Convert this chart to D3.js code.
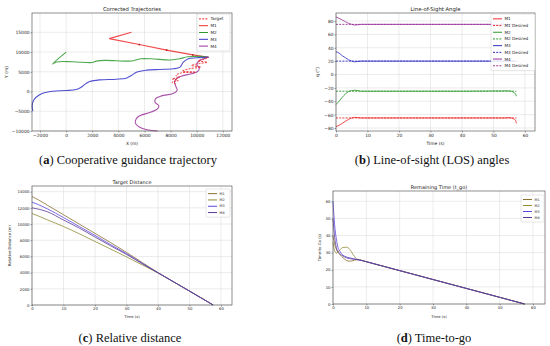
<!DOCTYPE html>
<html>
<head>
<meta charset="utf-8">
<script src="https://cdn.jsdelivr.net/npm/d3@7"></script>
<style>
  body { margin: 0; background: #fff; }
  text { font-family: "DejaVu Sans", sans-serif; fill: #222; }
  .cap { font-family: "Liberation Serif", serif; fill: #111; }
</style>
</head>
<body>
<svg id="chart" width="550" height="346"></svg>
<script>
// ---- (a) trajectories, [X, Y] in metres
const target = [[8400,1900],[8100,2400],[8600,2800],[8100,3200],[8700,3600],[8400,4100],[8800,4700],[9900,4900],[8900,5200],[9500,5800],[10300,6200],[9600,6600],[10200,7100],[10800,7400],[10100,7800],[10600,8200],[10900,8700]];
const trajM1 = [[5000,15000],[3300,13400],[5600,11900],[7700,10500],[9700,9300],[10900,8700]];
const marksM1 = [[5600,11900],[7700,10500],[9700,9300]];
const trajM2 = [[0,10000],[-1050,7000],[-750,7500],[500,7550],[2000,7350],[2300,7700],[3000,7900],[4500,7700],[5000,7750],[5700,8300],[6500,8300],[8000,8000],[8700,8300],[9300,8800],[10200,8900],[10900,8700]];
const trajM3 = [[-2550,-5000],[-2600,-3500],[-2500,-2300],[-2300,-1440],[-1800,-420],[-1030,90],[0,250],[770,510],[1150,1100],[1490,1950],[1800,2540],[2560,2960],[3850,3130],[4600,3390],[5000,4060],[5380,4910],[6150,5420],[7180,5590],[8200,5760],[8720,6180],[8970,7450],[9360,8300],[10000,8550],[10900,8720]];
const trajM4 = [[7000,-10000],[6200,-9700],[5600,-9000],[5300,-8000],[5350,-7000],[5600,-6200],[6500,-5200],[7000,-4400],[7100,-3600],[6800,-2700],[6850,-1800],[7300,-1100],[8200,-500],[8500,300],[8400,1300],[8300,2400],[8450,3300],[8800,3900],[9600,4500],[10100,5200],[10200,6000],[10000,6800],[10100,7500],[10300,8000],[10900,8700]];

// ---- (b) LOS angles (deg)
const losT = [0,1,2,3,4,5,6,7,8,20,40,54,55,56,56.5,57,57.3];
const losM1 = [-78,-76,-73,-70,-67,-65,-64,-64.5,-65,-65,-65,-65,-64.5,-65.5,-66.5,-68.5,-73];
const losM2 = [-45,-40,-34,-29,-25.5,-24,-23.5,-24,-25,-25,-25,-24.5,-24.5,-25.5,-27,-29,-32.5];
const losM3 = [34,32,28,25,22,20,19,19.5,20,20,20,20,20,20,20,20,20];
const losM4 = [86,84,81.5,79,76.5,75,74,74.5,75,75,75,75,75,75,75,75,75];
const losDesired = [-65,-25,20,75];

// ---- (c) relative distance (m)
const distT = [0,2,5,10,15,20,25,30,35,40,45,50,55,57.5];
const distM1 = [13400,13000,12300,11150,10000,8850,7700,6500,5250,4000,2850,1720,580,0];
const distM2 = [11300,11000,10500,9700,8800,7850,6900,5950,4950,3950,2850,1720,580,0];
const distM3 = [12700,12400,11850,10800,9700,8600,7450,6350,5150,3990,2850,1720,580,0];
const distM4 = [12000,11850,11500,10500,9500,8400,7300,6250,5100,3980,2850,1720,580,0];

// ---- (d) time-to-go (s)
const tgoT = [0,0.5,1,1.5,2,3,4,5,6,7,8,10,20,30,40,50,57.5];
const tgoM1 = [40,35,32,30,29,27,25.5,25,25.3,25.8,25.7,24.7,19.5,14.3,9.1,3.9,0];
const tgoM2 = [36,31,29.8,30.5,31.5,33,33.2,32,29,26.5,25.8,24.7,19.5,14.3,9.1,3.9,0];
const tgoM3 = [60,46,38,33,31,28.5,27.5,27,26.5,26.1,25.7,24.7,19.5,14.3,9.1,3.9,0];
const tgoM4 = [50,39,33,30.5,29.5,28,27,26.5,26.2,26,25.7,24.7,19.5,14.3,9.1,3.9,0];

const names = ['M1','M2','M3','M4'];
const colA = ['#ee2a2a','#2f9a2f','#3232c8','#9a3399'];
const colC = ['#8b6f2f','#8f8c35','#5a48e0','#5c3a94'];

const svg = d3.select('#chart');

function panel(c) {
  const g = svg.append('g');
  const x = d3.scaleLinear().domain(c.xd).range([c.l, c.r]);
  const y = d3.scaleLinear().domain(c.yd).range([c.b, c.t]);

  // grid
  g.selectAll('.gx').data(c.xt).enter().append('line')
    .attr('x1', d => x(d)).attr('x2', d => x(d)).attr('y1', c.t).attr('y2', c.b)
    .attr('stroke', '#d8d8d8').attr('stroke-width', 0.5);
  g.selectAll('.gy').data(c.yt).enter().append('line')
    .attr('y1', d => y(d)).attr('y2', d => y(d)).attr('x1', c.l).attr('x2', c.r)
    .attr('stroke', '#d8d8d8').attr('stroke-width', 0.5);

  const ax = g.append('g').attr('transform', `translate(0,${c.b})`)
    .call(d3.axisBottom(x).tickValues(c.xt).tickSize(1.5).tickPadding(1).tickFormat(d3.format('d')));
  const ay = g.append('g').attr('transform', `translate(${c.l},0)`)
    .call(d3.axisLeft(y).tickValues(c.yt).tickSize(1.5).tickPadding(1).tickFormat(d => d < 0 ? '\u2212' + Math.abs(d) : d));
  [ax, ay].forEach(a => {
    a.select('.domain').remove();
    a.selectAll('line').attr('stroke', '#444').attr('stroke-width', 0.5);
    a.selectAll('text').attr('font-size', c.fs).attr('fill', '#333').attr('font-family', '"DejaVu Sans", sans-serif');
  });

  const plot = g.append('g');
  g.append('rect').attr('x', c.l).attr('y', c.t).attr('width', c.r - c.l).attr('height', c.b - c.t)
    .attr('fill', 'none').attr('stroke', '#444').attr('stroke-width', 0.6);

  g.append('text').attr('x', (c.l + c.r) / 2).attr('y', c.t - 2).attr('text-anchor', 'middle')
    .attr('font-size', c.tfs).text(c.title);
  g.append('text').attr('x', (c.l + c.r) / 2).attr('y', c.xly).attr('text-anchor', 'middle')
    .attr('font-size', c.fs).text(c.xlabel);
  g.append('text').attr('transform', `translate(${c.ylx},${(c.t + c.b) / 2}) rotate(-90)`)
    .attr('text-anchor', 'middle').attr('font-size', c.fs).text(c.ylabel);

  return { x, y, plot, g };
}

function legend(g, x0, y0, w, rh, fs, items) {
  const lg = g.append('g');
  lg.append('rect').attr('x', x0).attr('y', y0).attr('width', w).attr('height', rh * items.length + 3)
    .attr('rx', 1.2).attr('fill', 'rgba(255,255,255,0.85)').attr('stroke', '#ccc').attr('stroke-width', 0.5);
  items.forEach((it, i) => {
    const yy = y0 + 1.5 + rh * (i + 0.5);
    lg.append('line').attr('x1', x0 + 2).attr('x2', x0 + 11).attr('y1', yy).attr('y2', yy)
      .attr('stroke', it.color).attr('stroke-width', 1).attr('stroke-dasharray', it.dash ? '2,1.2' : null);
    lg.append('text').attr('x', x0 + 13.5).attr('y', yy + fs * 0.35).attr('font-size', fs).text(it.label);
  });
}

// ---------- (a)
const A = panel({ l: 32, r: 232, t: 13, b: 131, xd: [-2615, 12700], yd: [-10000, 19900],
  xt: d3.range(-2000, 12001, 2000), yt: d3.range(-10000, 15001, 5000), fs: 4.4, tfs: 5.3,
  title: 'Corrected Trajectories', xlabel: 'X (m)', ylabel: 'Y (m)', xly: 144.5, ylx: 8 });
const lineA = d3.line().x(d => A.x(d[0])).y(d => A.y(d[1])).curve(d3.curveCatmullRom);
[trajM1, trajM2, trajM3, trajM4].forEach((tr, i) => {
  A.plot.append('path').attr('d', (i === 0 ? d3.line().x(d => A.x(d[0])).y(d => A.y(d[1])) : lineA)(tr))
    .attr('fill', 'none').attr('stroke', colA[i]).attr('stroke-width', 1.1).attr('stroke-opacity', 0.85);
});
A.plot.append('path').attr('d', lineA(target)).attr('fill', 'none').attr('stroke', '#ee2a2a')
  .attr('stroke-width', 0.9).attr('stroke-dasharray', '2,1.2');
A.plot.selectAll('.mk').data(marksM1).enter().append('circle')
  .attr('cx', d => A.x(d[0])).attr('cy', d => A.y(d[1])).attr('r', 0.9).attr('fill', '#b01818');
legend(A.g, 197, 14, 33, 6.8, 4.2, [
  { label: 'Target', color: '#ee2a2a', dash: true },
  ...names.map((n, i) => ({ label: n, color: colA[i] }))
]);

// ---------- (b)
const B = panel({ l: 336, r: 535, t: 13, b: 131, xd: [0, 63.2], yd: [-84.5, 92],
  xt: d3.range(0, 61, 10), yt: d3.range(-80, 81, 20), fs: 4.4, tfs: 5.3,
  title: 'Line-of-Sight Angle', xlabel: 'Time (s)', ylabel: 'q (\u00b0)', xly: 144.5, ylx: 319 });
const losSeries = [losM1, losM2, losM3, losM4];
losSeries.forEach((s, i) => {
  B.plot.append('line').attr('x1', B.x(0)).attr('x2', B.x(losT[losT.length - 1]))
    .attr('y1', B.y(losDesired[i])).attr('y2', B.y(losDesired[i]))
    .attr('stroke', colA[i]).attr('stroke-width', 0.9).attr('stroke-dasharray', '2,1.2');
  B.plot.append('path').datum(s)
    .attr('d', d3.line().x((d, j) => B.x(losT[j])).y(d => B.y(d)).curve(d3.curveMonotoneX))
    .attr('fill', 'none').attr('stroke', colA[i]).attr('stroke-width', 1).attr('stroke-opacity', 0.85);
});
const bItems = [];
names.forEach((n, i) => {
  bItems.push({ label: n, color: colA[i] });
  bItems.push({ label: n + ' Desired', color: colA[i], dash: true });
});
legend(B.g, 491, 14, 44, 6.7, 4.2, bItems);

// ---------- (c)
const C = panel({ l: 32, r: 232, t: 186, b: 305, xd: [0, 63.5], yd: [0, 14700],
  xt: d3.range(0, 61, 10), yt: d3.range(0, 14001, 2000), fs: 3.8, tfs: 5,
  title: 'Target Distance', xlabel: 'Time (s)', ylabel: 'Relative Distance (m)', xly: 318, ylx: 11 });
[distM1, distM2, distM3, distM4].forEach((s, i) => {
  C.plot.append('path').datum(s)
    .attr('d', d3.line().x((d, j) => C.x(distT[j])).y(d => C.y(d)).curve(d3.curveMonotoneX))
    .attr('fill', 'none').attr('stroke', colC[i]).attr('stroke-width', 0.8);
});
legend(C.g, 206, 189, 24, 6.3, 3.4, names.map((n, i) => ({ label: n, color: colC[i] })));

// ---------- (d)
const D = panel({ l: 333, r: 545, t: 191, b: 304, xd: [0, 63.6], yd: [0, 66],
  xt: d3.range(0, 61, 10), yt: d3.range(0, 61, 10), fs: 3.8, tfs: 5,
  title: 'Remaining Time (t_go)', xlabel: 'Time (s)', ylabel: 'Time-to-Go (s)', xly: 318, ylx: 321 });
[tgoM1, tgoM2, tgoM3, tgoM4].forEach((s, i) => {
  D.plot.append('path').datum(s)
    .attr('d', d3.line().x((d, j) => D.x(tgoT[j])).y(d => D.y(d)).curve(d3.curveMonotoneX))
    .attr('fill', 'none').attr('stroke', colC[i]).attr('stroke-width', 0.8);
});
legend(D.g, 521, 195, 23, 6, 3.4, names.map((n, i) => ({ label: n, color: colC[i] })));

// ---------- captions
const caps = [
  { x: 128, y: 163.5, k: 'a', t: 'Cooperative guidance trajectory' },
  { x: 432, y: 163.5, k: 'b', t: 'Line-of-sight (LOS) angles' },
  { x: 130, y: 342, k: 'c', t: 'Relative distance' },
  { x: 434, y: 342, k: 'd', t: 'Time-to-go' }
];
caps.forEach(c => {
  const t = svg.append('text').attr('class', 'cap').attr('x', c.x).attr('y', c.y)
    .attr('text-anchor', 'middle').attr('font-size', 12.5);
  t.append('tspan').text('(');
  t.append('tspan').attr('font-weight', 'bold').text(c.k);
  t.append('tspan').text(') ' + c.t);
});
</script>
</body>
</html>
